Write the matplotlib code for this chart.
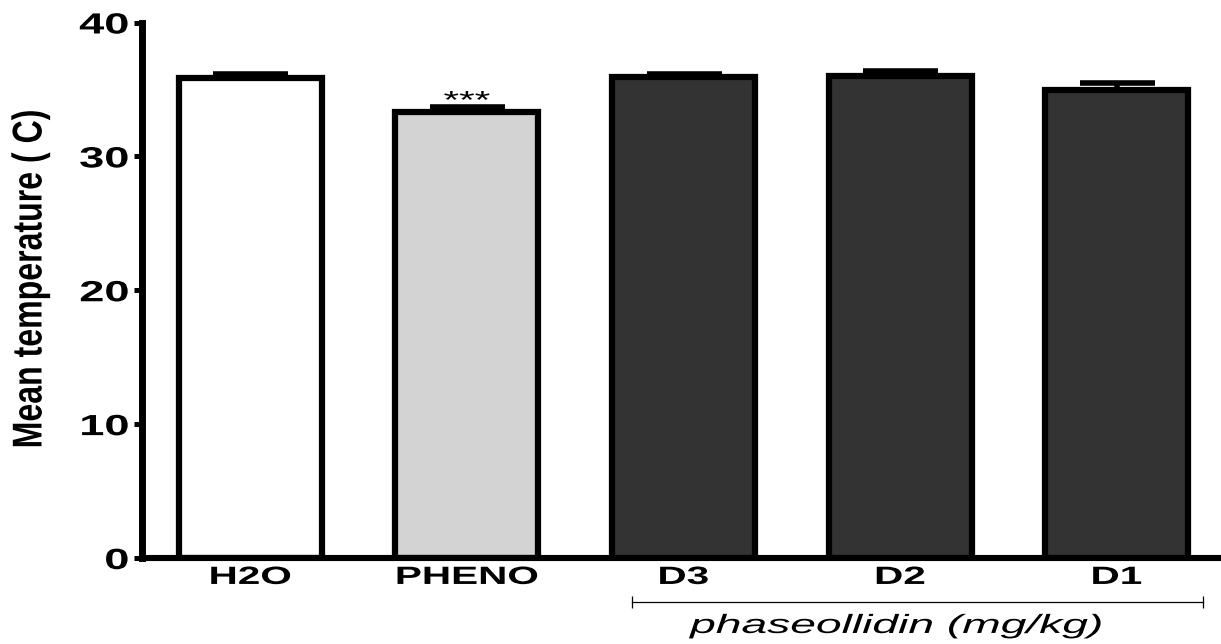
import numpy as np
import matplotlib
matplotlib.use("Agg")
import matplotlib.pyplot as plt
from matplotlib.patheffects import AbstractPathEffect
from matplotlib.transforms import Affine2D, blended_transform_factory

# group means and SEM (temperature in C)
groups = ['H2O', 'PHENO', 'D3', 'D2', 'D1']
means = [35.85, 33.35, 35.95, 36.0, 34.95]
sem = [0.33, 0.35, 0.2, 0.38, 0.55]
stars = ['', '***', '', '', '']
dose_label = 'phaseollidin (mg/kg)'
yticks = [0, 10, 20, 30, 40]

fills = ['white', '#d3d3d3', '#333333', '#333333', '#333333']


class Stretch(AbstractPathEffect):
    """Widen (or narrow) glyph outlines along the text baseline."""

    def __init__(self, sx=1.0, anchor='center'):
        super().__init__()
        self.sx = sx
        self.anchor = anchor

    def draw_path(self, renderer, gc, tpath, affine, rgbFace=None):
        ext = tpath.get_extents()
        if self.anchor == 'right':
            cx = ext.x1
        elif self.anchor == 'left':
            cx = ext.x0
        else:
            cx = (ext.x0 + ext.x1) / 2
        t = Affine2D().translate(-cx, 0).scale(self.sx, 1).translate(cx, 0) + affine
        renderer.draw_path(gc, tpath, t, rgbFace)


plt.rcParams['font.family'] = ['Liberation Sans', 'DejaVu Sans']

fig = plt.figure(figsize=(12.21, 6.44), dpi=100)
ax = fig.add_axes([142 / 1221, 86 / 644, 1083 / 1221, 535.5 / 644])

x = np.arange(len(groups))
ax.errorbar(x, means, yerr=[np.zeros(len(sem)), sem], fmt='none', ecolor='black',
            elinewidth=4, capsize=27, capthick=4, zorder=1)
ax.bar(x, means, width=0.66, color=fills, edgecolor='black', linewidth=4.5, zorder=2)

for xi, m, s, lab in zip(x, means, sem, stars):
    if lab:
        t = ax.annotate(lab, xy=(xi, m + s), xytext=(0, -1), textcoords='offset points',
                        ha='center', va='baseline', fontsize=18, zorder=3)
        t.set_path_effects([Stretch(1.6)])

ax.set_xlim(-0.5, 4.5)
ax.set_ylim(0, 40)
ax.set_xticks(x)
ax.set_xticklabels(groups, fontsize=18, fontweight='bold')
ax.set_yticks(yticks)
ax.set_yticklabels([str(v) for v in yticks], fontsize=21, fontweight='bold')

for side in ['top', 'right']:
    ax.spines[side].set_visible(False)
ax.spines['left'].set_linewidth(5)
ax.spines['bottom'].set_linewidth(4.4)
ax.tick_params(axis='y', length=6, width=3.6, pad=3.5)
ax.tick_params(axis='x', length=2.5, width=4, pad=2.5)

for lab in ax.get_xticklabels():
    lab.set_path_effects([Stretch(1.62)])
for lab in ax.get_yticklabels():
    lab.set_path_effects([Stretch(1.55, anchor='right')])

ylab = fig.text(30.5 / 1221, 1 - 279 / 644, 'Mean temperature ( C)', rotation=90,
                ha='center', va='center', fontsize=30, fontweight='bold')
ylab.set_path_effects([Stretch(0.77)])

# bracket under the dose groups
trans = blended_transform_factory(ax.transData, ax.transAxes)
ax.plot([1.763, 4.398], [-0.082, -0.082], color='black', lw=0.9, marker='|',
        markersize=8.5, markeredgewidth=0.9, transform=trans, clip_on=False)
dl = ax.text(2.98, -0.14, dose_label, transform=trans, ha='center', va='baseline',
             fontsize=19, style='italic')
dl.set_path_effects([Stretch(1.75)])

fig.savefig('out.png', dpi=100)
